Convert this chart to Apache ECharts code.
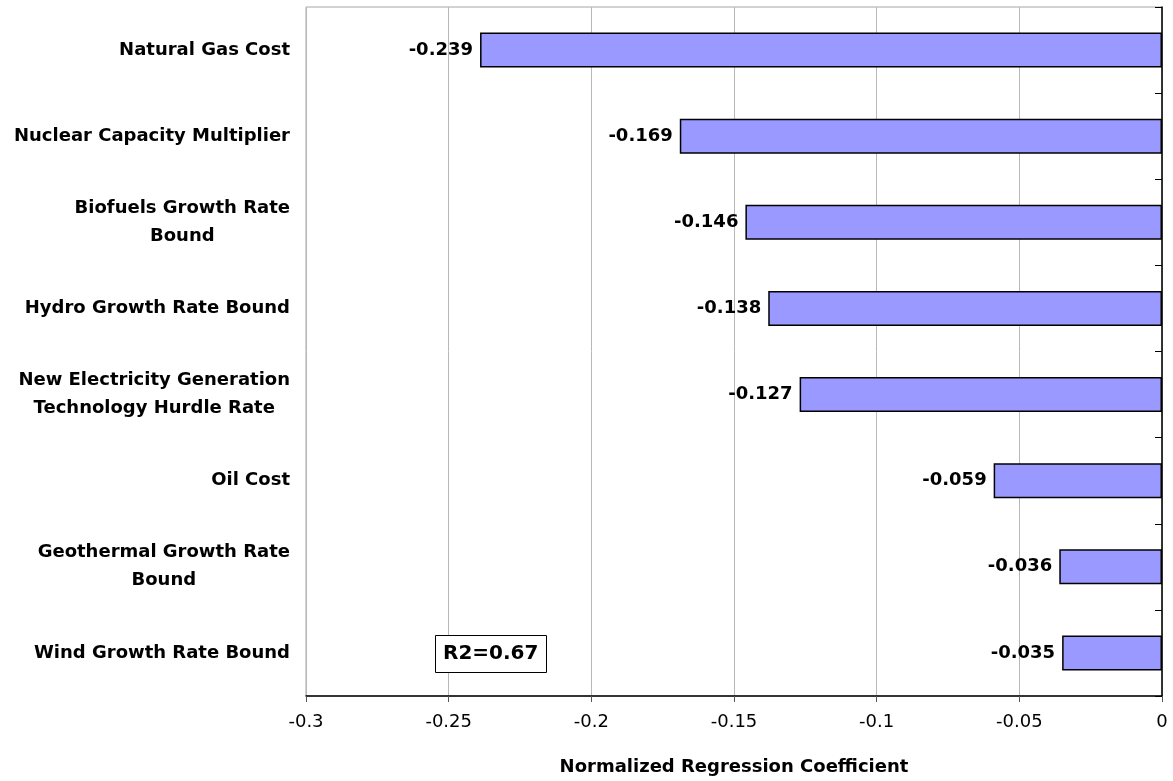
<!DOCTYPE html>
<html>
<head>
<meta charset="utf-8">
<script src="https://cdn.jsdelivr.net/npm/echarts@6/dist/echarts.min.js"></script>
<style>
  html, body { margin: 0; padding: 0; background: #ffffff; }
  #chart { width: 1173px; height: 781px; }
</style>
</head>
<body>
<div id="chart"></div>
<script>
const categories = [
  'Natural Gas Cost',
  'Nuclear Capacity Multiplier',
  'Biofuels Growth Rate\nBound',
  'Hydro Growth Rate Bound',
  'New Electricity Generation\nTechnology Hurdle Rate',
  'Oil Cost',
  'Geothermal Growth Rate\nBound',
  'Wind Growth Rate Bound'
];
const coefficients = [-0.239, -0.169, -0.146, -0.138, -0.127, -0.059, -0.036, -0.035];
const xAxisName = 'Normalized Regression Coefficient';
const annotation = 'R2=0.67';

const FONT = 'DejaVu Sans';
const chart = echarts.init(document.getElementById('chart'));

chart.setOption({
  backgroundColor: '#ffffff',
  animation: false,
  grid: {
    left: 306, right: 11, top: 7, bottom: 85,
    show: true,
    borderColor: '#a6a6a6',
    borderWidth: 1,
    backgroundColor: 'transparent'
  },
  xAxis: {
    type: 'value',
    min: -0.3,
    max: 0,
    interval: 0.05,
    name: xAxisName,
    nameLocation: 'middle',
    nameGap: 62,
    nameTextStyle: { fontFamily: FONT, fontSize: 18, fontWeight: 'bold', color: '#000' },
    axisLine: { show: true, lineStyle: { color: '#000', width: 1.5 } },
    axisTick: { show: true, length: 6, lineStyle: { color: '#555' } },
    axisLabel: {
      margin: 17,
      fontFamily: FONT, fontSize: 18, color: '#000'
    },
    splitLine: { show: true, lineStyle: { color: '#b8b8b8', width: 1 } }
  },
  yAxis: [
    {
      type: 'category',
      position: 'left',
      inverse: true,
      data: categories,
      axisLine: { show: false },
      axisTick: { show: false },
      splitLine: { show: false },
      axisLabel: {
        margin: 16,
        interval: 0,
        formatter: function (v) {
          return v.split('\n').map(function (l) { return '{c|' + l + '}'; }).join('\n');
        },
        rich: {
          c: {
            align: 'center',
            fontFamily: FONT, fontSize: 18, fontWeight: 'bold', color: '#000',
            lineHeight: 28
          }
        }
      }
    },
    {
      type: 'category',
      position: 'right',
      inverse: true,
      data: categories,
      axisLine: { show: true, lineStyle: { color: '#000', width: 1.5 } },
      axisTick: { show: true, inside: true, length: 7, interval: 0, lineStyle: { color: '#000' } },
      axisLabel: { show: false },
      splitLine: { show: false }
    }
  ],
  series: [
    {
      type: 'bar',
      yAxisIndex: 0,
      data: coefficients,
      barWidth: 35,
      itemStyle: { color: '#9999ff', borderColor: '#000', borderWidth: 1.5 },
      label: {
        show: true,
        position: 'left',
        distance: 7,
        formatter: function (p) { return p.value.toFixed(3); },
        fontFamily: FONT, fontSize: 18, fontWeight: 'bold', color: '#000'
      }
    }
  ],
  graphic: [
    {
      type: 'rect',
      left: 435, top: 635,
      shape: { width: 111, height: 37 },
      style: { fill: '#fff', stroke: '#000', lineWidth: 1 },
      z: 100
    },
    {
      type: 'text',
      left: 443, top: 644,
      style: {
        text: annotation,
        fontFamily: FONT, fontSize: 20, fontWeight: 'bold', fill: '#000'
      },
      z: 101
    }
  ]
});
</script>
</body>
</html>
